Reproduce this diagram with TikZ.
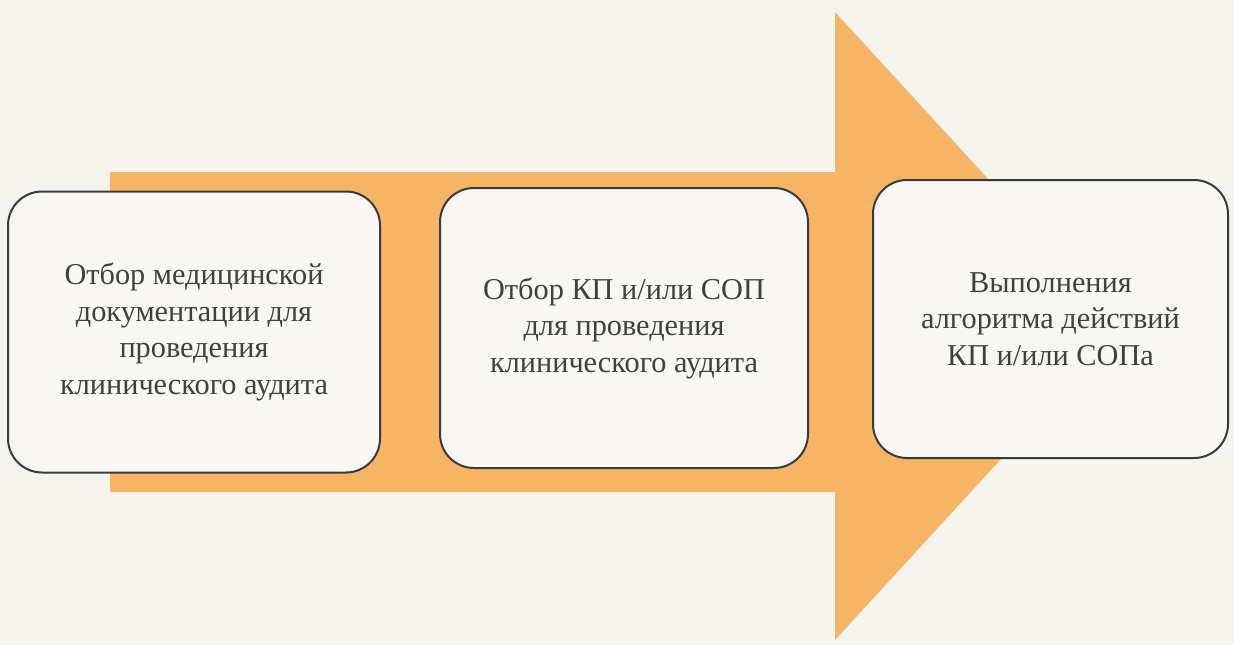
\documentclass[tikz,border=0pt]{standalone}
\usepackage{fontspec}
\setmainfont{Liberation Serif}
\definecolor{bg}{HTML}{F5F4EF}
\definecolor{arrowc}{HTML}{F6B565}
\definecolor{boxfill}{HTML}{F8F7F3}
\definecolor{edge}{HTML}{3A3A3A}
\definecolor{txt}{HTML}{404040}
\tikzset{
  stagebox/.style={draw=edge, line width=2pt, fill=boxfill, rounded corners=34pt,
    align=center, text=txt, font=\fontsize{30.3}{36.5}\selectfont, inner sep=0pt},
}
\begin{document}
\begin{tikzpicture}[x=1pt,y=-1pt]
\fill[bg] (0,0) rectangle (1234,645);
\useasboundingbox (0,0) rectangle (1234,645);
\fill[arrowc] (110,172) -- (835,172) -- (835,12) -- (1123,326) -- (835,640) -- (835,492) -- (110,492) -- cycle;
\node[stagebox, minimum width=372pt, minimum height=281pt] (b1) at (194,332)
  {Отбор медицинской\\документации для\\проведения\\клинического аудита};
\node[stagebox, minimum width=368pt, minimum height=280pt] (b2) at (624,328)
  {Отбор КП и/или СОП\\для проведения\\клинического аудита};
\node[stagebox, minimum width=355pt, minimum height=278pt] (b3) at (1050.5,319)
  {Выполнения\\алгоритма действий\\КП и/или СОПа};
\end{tikzpicture}
\end{document}
